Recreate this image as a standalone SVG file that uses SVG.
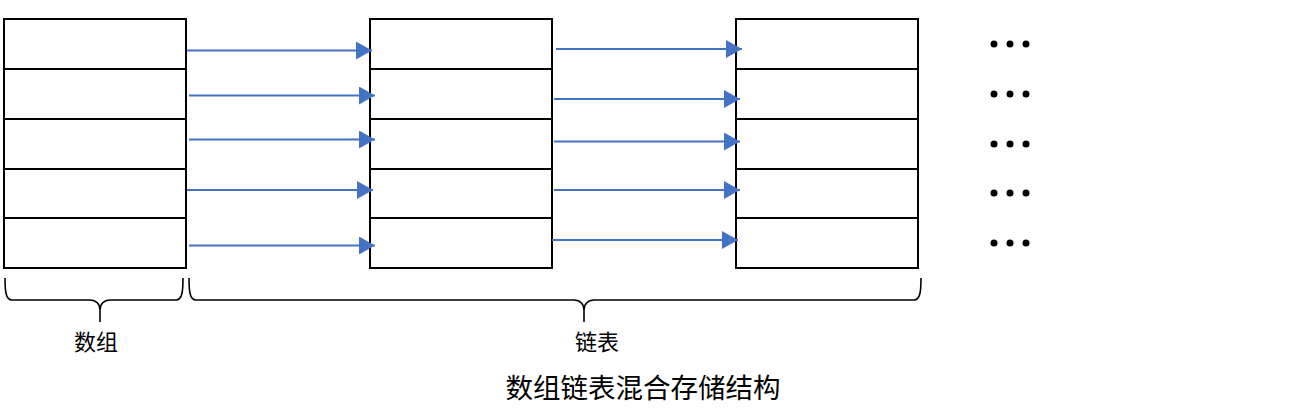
<svg xmlns="http://www.w3.org/2000/svg" width="1291" height="416" viewBox="0 0 1291 416">
<defs>
<style>
.box{fill:#fff;stroke:#000;stroke-width:2}
.row{stroke:#000;stroke-width:2}
.arr{stroke:#4472C4;stroke-width:2;fill:none;marker-end:url(#ah)}
.brace{fill:none;stroke:#000;stroke-width:1.6}
.lbl{font-family:"Noto Sans CJK SC","Noto Sans",sans-serif;fill:#000}
.dot{fill:#000}
</style>
<marker id="ah" viewBox="0 0 16 18" refX="16" refY="9" markerWidth="16" markerHeight="18" markerUnits="userSpaceOnUse" orient="auto">
<path d="M0,0 L16,9 L0,18 Z" fill="#4472C4"/>
</marker>
</defs>
<rect width="1291" height="416" fill="#fff"/>
<g id="array">
<rect class="box" x="4" y="19" width="182" height="249"/>
<line class="row" x1="4" y1="69" x2="186" y2="69"/>
<line class="row" x1="4" y1="119" x2="186" y2="119"/>
<line class="row" x1="4" y1="169" x2="186" y2="169"/>
<line class="row" x1="4" y1="218" x2="186" y2="218"/>
</g>
<g id="list1">
<rect class="box" x="370" y="19" width="182" height="249"/>
<line class="row" x1="370" y1="69" x2="552" y2="69"/>
<line class="row" x1="370" y1="119" x2="552" y2="119"/>
<line class="row" x1="370" y1="169" x2="552" y2="169"/>
<line class="row" x1="370" y1="218" x2="552" y2="218"/>
</g>
<g id="list2">
<rect class="box" x="736" y="19" width="182" height="249"/>
<line class="row" x1="736" y1="69" x2="918" y2="69"/>
<line class="row" x1="736" y1="119" x2="918" y2="119"/>
<line class="row" x1="736" y1="169" x2="918" y2="169"/>
<line class="row" x1="736" y1="218" x2="918" y2="218"/>
</g>
<g id="connectors">
<line class="arr" x1="187" y1="50.5" x2="372" y2="50.5"/>
<line class="arr" x1="189" y1="95.5" x2="375" y2="95.5"/>
<line class="arr" x1="189" y1="139.5" x2="375" y2="139.5"/>
<line class="arr" x1="187" y1="190" x2="373" y2="190"/>
<line class="arr" x1="189" y1="245.5" x2="375" y2="245.5"/>
<line class="arr" x1="556" y1="49" x2="742" y2="49"/>
<line class="arr" x1="554" y1="99" x2="740" y2="99"/>
<line class="arr" x1="554" y1="141.5" x2="740" y2="141.5"/>
<line class="arr" x1="554" y1="190" x2="740" y2="190"/>
<line class="arr" x1="552" y1="240" x2="738" y2="240"/>
</g>
<g id="brace-array">
<path class="brace" d="M5,278 C5,292 6,300 12,300 L90,300 C96,300 100,304 100,310 L100,322 M100,310 C100,304 104,300 110,300 L176,300 C182,300 183,292 183,278"/>
<text class="lbl" x="96" y="350" font-size="22" text-anchor="middle">数组</text>
</g>
<g id="brace-list">
<path class="brace" d="M189,278 C189,292 190,300 196,300 L574,300 C580,300 584,304 584,310 L584,322 M584,310 C584,304 588,300 594,300 L914,300 C920,300 921,292 921,278"/>
<text class="lbl" x="597" y="350" font-size="22" text-anchor="middle">链表</text>
</g>
<g id="dots">
<circle class="dot" cx="994" cy="44" r="3.5"/><circle class="dot" cx="1010" cy="44" r="3.5"/><circle class="dot" cx="1026" cy="44" r="3.5"/>
<circle class="dot" cx="994" cy="94" r="3.5"/><circle class="dot" cx="1010" cy="94" r="3.5"/><circle class="dot" cx="1026" cy="94" r="3.5"/>
<circle class="dot" cx="994" cy="144" r="3.5"/><circle class="dot" cx="1010" cy="144" r="3.5"/><circle class="dot" cx="1026" cy="144" r="3.5"/>
<circle class="dot" cx="994" cy="193" r="3.5"/><circle class="dot" cx="1010" cy="193" r="3.5"/><circle class="dot" cx="1026" cy="193" r="3.5"/>
<circle class="dot" cx="994" cy="243" r="3.5"/><circle class="dot" cx="1010" cy="243" r="3.5"/><circle class="dot" cx="1026" cy="243" r="3.5"/>
</g>
<g id="title">
<text class="lbl" x="643" y="398" font-size="27.5" text-anchor="middle">数组链表混合存储结构</text>
</g>
</svg>
